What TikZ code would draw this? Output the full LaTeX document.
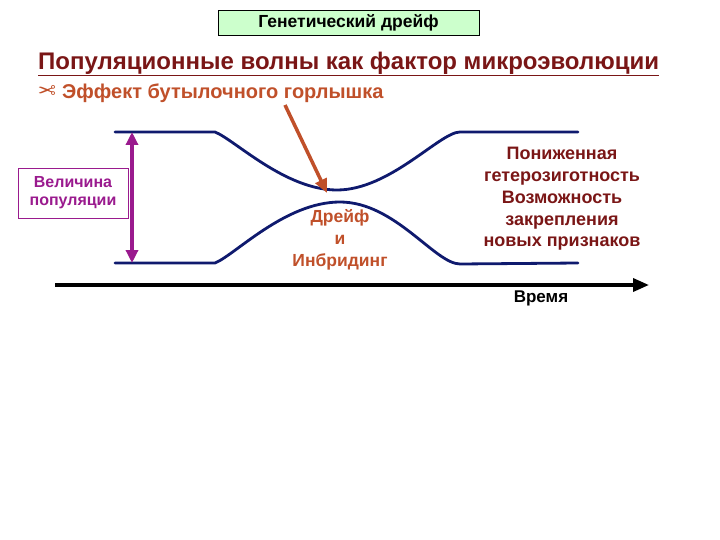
\documentclass[tikz,border=0pt]{standalone}
\usepackage{fontspec}
\setmainfont{Liberation Sans}
\newfontfamily\symfont{DejaVu Sans}
\usepackage{xcolor}
\definecolor{headred}{HTML}{7A1616}
\definecolor{rustbrown}{HTML}{C0502A}
\definecolor{popnavy}{HTML}{0F1A6E}
\definecolor{sizepurple}{HTML}{9A1A8E}
\definecolor{titlegreen}{HTML}{CCFFCC}
\usetikzlibrary{positioning,arrows.meta}

\begin{document}
\begin{tikzpicture}[
  x=1pt, y=-1pt,
  lbl/.style={font=\bfseries\fontsize{16}{18}\selectfont, align=center, inner sep=1pt},
  wave/.style={line width=2.8pt, color=popnavy, line cap=round},
  arr/.style={-{Triangle[length=14pt,width=12pt]}, line width=3.5pt}
]
  \useasboundingbox (0,0) rectangle (720,540);

  % title box
  \node[draw, fill=titlegreen, minimum width=261pt, minimum height=25pt,
        font=\bfseries\fontsize{17.5}{19}\selectfont] (title) at (348.5,22.5) {Генетический дрейф};

  % heading and bullet
  \node[font=\bfseries\fontsize{24}{26}\selectfont, color=headred, anchor=west, inner sep=0pt]
    (head) at (38,64) {\underline{Популяционные волны как фактор микроэволюции}};
  \node[font=\symfont\fontsize{22}{24}\selectfont, color=rustbrown, inner sep=0pt] (bul) at (47,92) {\reflectbox{✂}};
  \node[font=\bfseries\fontsize{20}{22}\selectfont, color=rustbrown, anchor=west, inner sep=0pt]
    (effect) at (62,93) {Эффект бутылочного горлышка};

  % population curves
  \draw[wave] (115,132) -- (215,132) .. controls (235,140) and (285,190) .. (337,190)
    .. controls (390,190) and (440,132) .. (460,132) -- (578,132);
  \draw[wave] (115,263) -- (215,263) .. controls (235,255) and (285,202) .. (340,202)
    .. controls (395,202) and (435,264) .. (460,264) -- (578,263);

  % population size
  \coordinate (top) at (132,132);
  \coordinate (bot) at (132,263);
  \draw[sizepurple, line width=3.5pt, {Triangle[length=13pt,width=12pt]}-{Triangle[length=13pt,width=12pt]}] (top) -- (bot);
  \node[draw=sizepurple, text=sizepurple, lbl, minimum width=110pt, minimum height=50pt] (size) at (73,193)
    {Величина\\популяции};

  % time axis
  \coordinate (t0) at (55,285);
  \coordinate (t1) at (649,285);
  \draw[arr, -{Triangle[length=16pt,width=13pt]}] (t0) -- (t1);
  \node[lbl, font=\bfseries\fontsize{17}{19}\selectfont] (time) at (541,298) {Время};

  % bottleneck arrow and labels
  \coordinate (a0) at (285,105);
  \coordinate (a1) at (327,193);
  \draw[arr, rustbrown] (a0) -- (a1);
  \node[lbl, text=rustbrown, font=\bfseries\fontsize{17.5}{22}\selectfont] (drift) at (340,240) {Дрейф\\и\\Инбридинг};
  \node[lbl, text=headred, font=\bfseries\fontsize{18}{21.7}\selectfont] (result) at (562,199)
    {Пониженная\\гетерозиготность\\Возможность\\закрепления\\новых признаков};
\end{tikzpicture}
\end{document}
